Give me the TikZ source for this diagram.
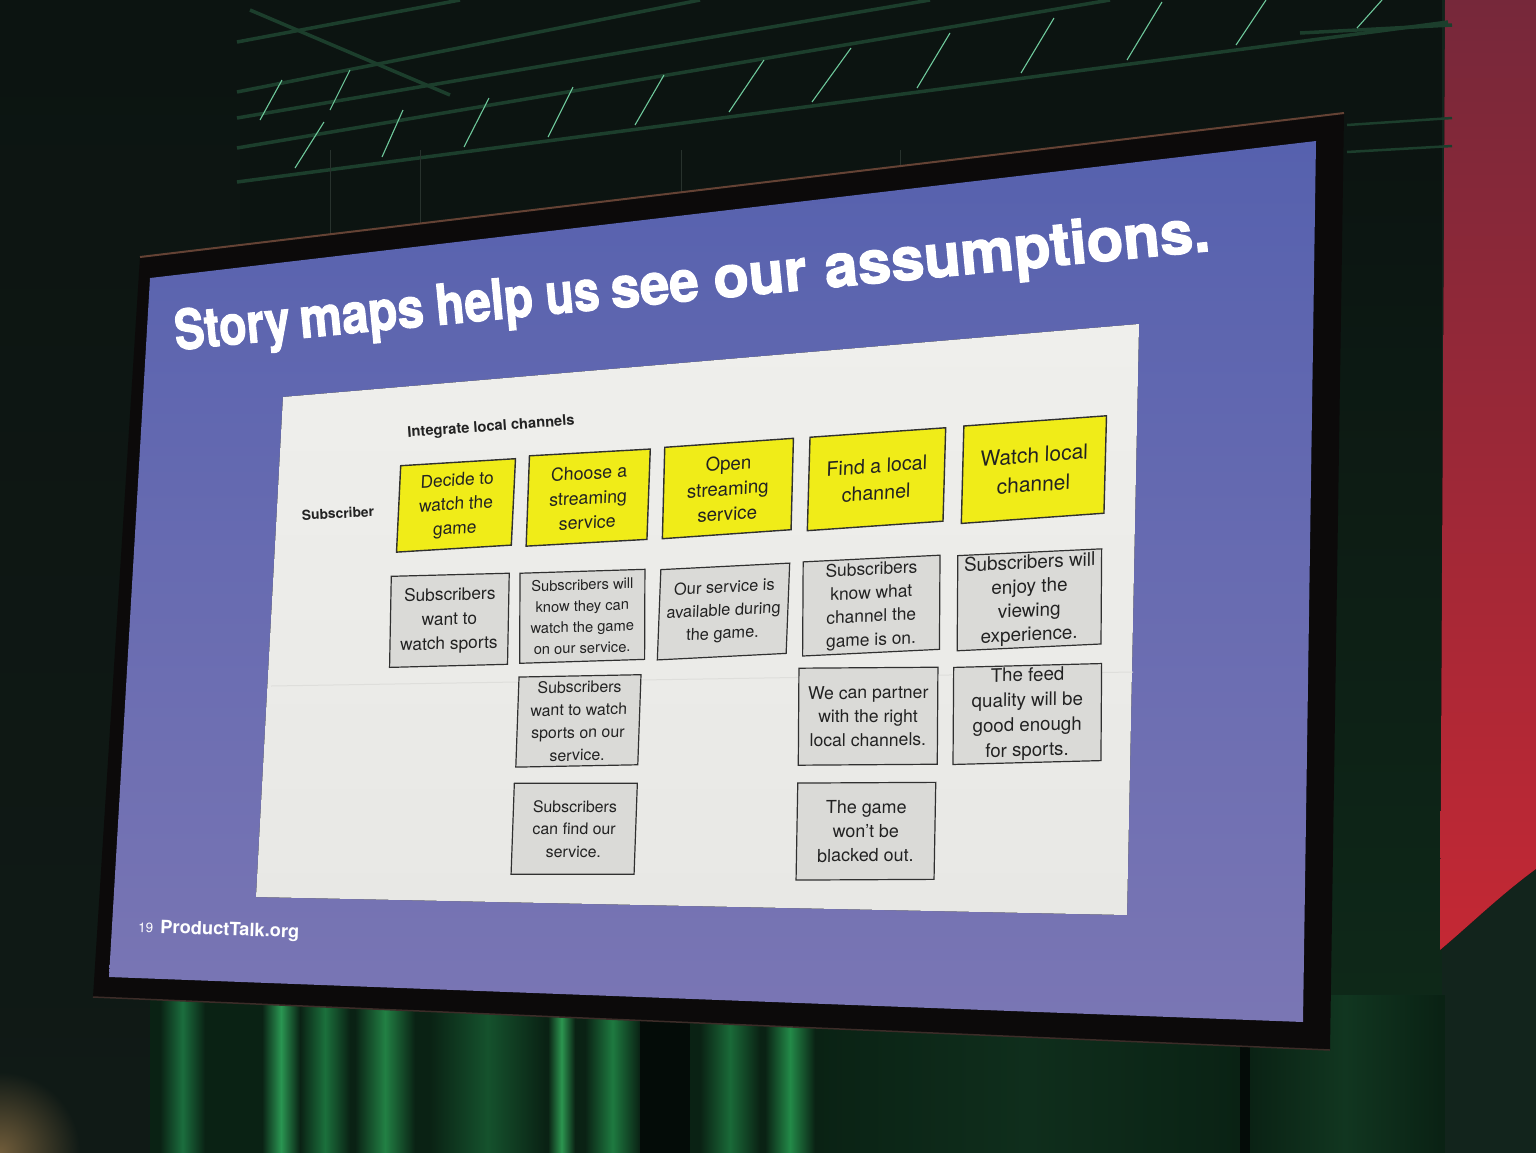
\documentclass[tikz,border=0pt]{standalone}
\usepackage{fontspec}
\setmainfont{TeX Gyre Heros}
\newfontfamily\titlefont{TeX Gyre Heros}[BoldFeatures={FakeBold=2}]
\newcommand\setfs[2]{\fontsize{#1}{#2}\selectfont}
\definecolor{bgdark}{RGB}{12,20,17}
\definecolor{leftdark}{RGB}{16,26,22}
\definecolor{glow}{RGB}{112,92,58}
\definecolor{panelgreen}{RGB}{14,44,26}
\definecolor{wallgreen}{RGB}{18,36,28}
\definecolor{wire}{RGB}{40,50,45}
\definecolor{slidetop}{RGB}{86,97,174}
\definecolor{slidebot}{RGB}{122,118,180}
\definecolor{paper}{RGB}{239,239,236}
\definecolor{paperlow}{RGB}{232,232,229}
\definecolor{sepline}{RGB}{222,222,219}
\definecolor{sticky}{RGB}{240,236,24}
\definecolor{card}{RGB}{218,218,215}
\definecolor{ink}{RGB}{34,34,34}
\definecolor{edge}{RGB}{48,48,48}
\definecolor{bezel}{RGB}{12,10,10}
\definecolor{rim}{RGB}{100,66,52}
\definecolor{rimlow}{RGB}{60,44,40}
\definecolor{trussdark}{RGB}{28,62,44}
\definecolor{trusslite}{RGB}{110,200,155}
\definecolor{redtop}{RGB}{118,40,58}
\definecolor{redbot}{RGB}{196,40,52}
\definecolor{curtbase}{RGB}{10,34,20}
\definecolor{curtblack}{RGB}{4,12,8}
\tikzset{
  ybox/.style={draw=edge, line width=1.4pt, fill=sticky, inner sep=0pt, align=center, text=ink},
  gbox/.style={draw=edge, line width=1.2pt, fill=card, inner sep=0pt, align=center, text=ink},
  tube/.style={draw=trussdark, line width=3.5pt},
  brace/.style={draw=trusslite, line width=1.1pt},
  tword/.style={anchor=base west, rotate=5.5, inner sep=0pt, text=white},
}
\begin{document}
\begin{tikzpicture}[x=1pt,y=-1pt]
\useasboundingbox (0,0) rectangle (1536,1152);
% background
\fill[bgdark] (0,0) rectangle (1536,1152);
\fill[top color=bgdark, bottom color=leftdark] (0,0) rectangle (240,1152);
\shade[inner color=glow, outer color=leftdark] (0,1152) circle (80pt);
% right dark panel
\fill[top color=bgdark, bottom color=panelgreen] (1330,160) rectangle (1445,1160);
% red wall
\fill[wallgreen] (1442,0) rectangle (1540,1160);
\fill[top color=redtop, bottom color=redbot] (1445,-2) -- (1540,-2) -- (1540,866) .. controls (1500,895) and (1470,925) .. (1440,950) -- cycle;
% truss
\draw[tube] (237,182) -- (1448,22);
\draw[tube] (237,148) -- (1110,0);
\draw[tube] (237,118) -- (930,0);
\draw[tube] (237,92) -- (700,0);
\draw[tube] (237,42) -- (460,0);
\draw[tube] (250,10) -- (450,95);
\draw[tube] (1300,33) -- (1452,25);
\draw[tube, line width=2.5pt] (1347,125) -- (1452,118);
\draw[tube, line width=2.5pt] (1347,152) -- (1452,146);
\foreach \a/\b/\c/\d in {295/168/324/122, 382/157/403/110, 464/147/489/98, 548/137/573/87,
  635/125/664/75, 729/112/764/60, 812/102/851/48, 917/88/950/33, 1021/73/1054/18,
  1127/60/1162/2, 1236/45/1266/0, 1357/28/1382/0, 260/120/282/80, 330/110/350/70}
  \draw[brace] (\a,\b) -- (\c,\d);
\foreach \x in {330,420,681,900,1224}
  \draw[wire, line width=0.8pt] (\x,150) -- (\x,235);
% curtain
\fill[curtbase] (150,995) rectangle (1445,1160);
\foreach \xa/\xb/\cr/\cg/\cb in {160/205/27/110/62, 262/300/42/150/82, 300/350/27/112/60, 355/415/34/128/68,
  430/545/21/82/45, 548/575/44/150/80, 585/640/30/122/64, 700/760/26/106/56, 765/815/35/138/72,
  815/1240/15/46/28, 1250/1440/17/54/32}
{
  \definecolor{stc}{RGB}{\cr,\cg,\cb}
  \fill[left color=curtbase, right color=curtbase, middle color=stc] (\xa,995) rectangle (\xb,1165);
}
\fill[curtblack] (640,995) rectangle (690,1160);
\fill[curtblack] (1240,1040) rectangle (1250,1160);
% screen bezel
\fill[bezel] (140,257) -- (1344,113) -- (1330,1050) -- (93,997) -- cycle;
\draw[rim, line width=2pt] (140,257) -- (1344,113);
\draw[rimlow, line width=1.5pt] (93,997) -- (1330,1050);
% slide
\fill[top color=slidetop, bottom color=slidebot] (150,278) -- (1316,141) -- (1303,1022) -- (109,977) -- cycle;
% white content area
\fill[top color=paper, bottom color=paperlow] (283,397) -- (1139,324) -- (1127,915) -- (256,897) -- cycle;
\draw[sepline, line width=1pt] (271,686) -- (1133,672);
% title, word by word (perspective)
\node[tword, font=\titlefont\bfseries\setfs{55}{60}] (t1) at (176,350) {\scalebox{0.82}[1]{Story}};
\node[tword, font=\titlefont\bfseries\setfs{55.5}{60}] (t2) at (301,338.1) {\scalebox{0.86}[1]{maps}};
\node[tword, font=\titlefont\bfseries\setfs{56}{60}] (t3) at (437,325.1) {\scalebox{0.85}[1]{help}};
\node[tword, font=\titlefont\bfseries\setfs{56.5}{60}] (t4) at (547,314.6) {\scalebox{0.82}[1]{us}};
\node[tword, font=\titlefont\bfseries\setfs{57}{60}] (t5) at (612,308.4) {\scalebox{0.93}[1]{see}};
\node[tword, font=\titlefont\bfseries\setfs{58}{60}] (t6) at (715,298.5) {\scalebox{1.0}[1]{our}};
\node[tword, font=\titlefont\bfseries\setfs{60}{60}] (t7) at (826,287.9) {\scalebox{1.0}[1]{assumptions.}};
% footer
\node[anchor=base west, rotate=-1.5, inner sep=0pt, text=white, font=\setfs{13.5}{16}] (page) at (138,932) {19};
\node[anchor=base west, rotate=-2, inner sep=0pt, text=white, font=\bfseries\setfs{18.3}{22}] (site) at (160,933) {ProductTalk.org};
% labels
\node[anchor=base west, rotate=4.2, inner sep=0pt, text=ink, font=\bfseries\setfs{14.7}{17}] (epic) at (407.7,437.3) {Integrate local channels};
\node[anchor=base west, rotate=2.6, inner sep=0pt, text=ink, font=\bfseries\setfs{13.8}{16}] (actor) at (302,520) {Subscriber};
% steps (yellow)
\node[ybox, minimum width=115, minimum height=86, rotate=3.5, xslant=0.11, font=\setfs{17.4}{24}] (y1) at (456,505.4) {Decide to\\watch the\\game};
\node[ybox, minimum width=121, minimum height=90, rotate=3.2, xslant=0.093, font=\setfs{17.8}{24.5}] (y2) at (588.2,497.6) {Choose a\\streaming\\service};
\node[ybox, minimum width=129, minimum height=91, rotate=4, xslant=0.096, font=\setfs{18.7}{25}] (y3) at (727.9,488.5) {Open\\streaming\\service};
\node[ybox, minimum width=136, minimum height=93, rotate=4, xslant=0.099, font=\setfs{19.7}{27}] (y4) at (876.5,479.2) {Find a local\\channel};
\node[ybox, minimum width=143, minimum height=97, rotate=4.1, xslant=0.098, font=\setfs{21}{29}] (y5) at (1033.9,469.6) {Watch local\\channel};
% assumptions (gray)
\node[gbox, minimum width=118, minimum height=91, rotate=1.5, xslant=0.045, font=\setfs{17.3}{24.5}] (g1) at (449.4,620.3) {Subscribers\\want to\\watch sports};
\node[gbox, minimum width=125, minimum height=90, rotate=1.8, xslant=0.035, font=\setfs{14.7}{21}] (g2) at (582.3,616.3) {Subscribers will\\know they can\\watch the game\\on our service.};
\node[gbox, minimum width=129, minimum height=90, rotate=2.9, xslant=0.09, font=\setfs{16.4}{23}] (g5) at (723.5,611.5) {Our service is\\available during\\the game.};
\node[gbox, minimum width=137, minimum height=94, rotate=2.8, xslant=0.055, font=\setfs{17.4}{23.5}] (g6) at (871.3,605.6) {Subscribers\\know what\\channel the\\game is on.};
\node[gbox, minimum width=144, minimum height=95, rotate=2.7, xslant=0.054, font=\setfs{18.9}{24}] (g7) at (1029.4,599.8) {Subscribers will\\enjoy the\\viewing\\experience.};
\node[gbox, minimum width=122, minimum height=90, rotate=1.1, xslant=0.055, font=\setfs{15.9}{22.7}] (g3) at (578.4,720.9) {Subscribers\\want to watch\\sports on our\\service.};
\node[gbox, minimum width=139, minimum height=97, rotate=0.4, xslant=0.014, font=\setfs{17.6}{23.7}] (g8) at (868.1,716.2) {We can partner\\with the right\\local channels.};
\node[gbox, minimum width=148, minimum height=97, rotate=1.5, xslant=0.033, font=\setfs{18.7}{25}] (g9) at (1027.3,714) {The feed\\quality will be\\good enough\\for sports.};
\node[gbox, minimum width=123, minimum height=91, rotate=0, xslant=0.036, font=\setfs{15.9}{22.5}] (g4) at (574.2,828.8) {Subscribers\\can find our\\service.};
\node[gbox, minimum width=138, minimum height=97, rotate=0.3, xslant=0.023, font=\setfs{17.9}{24.2}] (g10) at (865.9,831.2) {The game\\won't be\\blacked out.};
\end{tikzpicture}
\end{document}
